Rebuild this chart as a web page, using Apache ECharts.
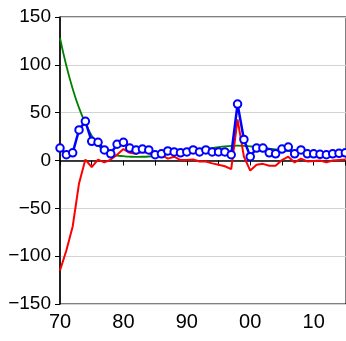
<!DOCTYPE html>
<html><head><meta charset="utf-8">
<script src="https://cdn.jsdelivr.net/npm/echarts@6/dist/echarts.min.js"></script>
<style>html,body{margin:0;padding:0;background:#fff}#c{width:346px;height:341px}</style>
</head><body><div id="c"></div>
<script>
var years = [1970,1971,1972,1973,1974,1975,1976,1977,1978,1979,1980,1981,1982,1983,1984,1985,1986,1987,1988,1989,1990,1991,1992,1993,1994,1995,1996,1997,1998,1999,2000,2001,2002,2003,2004,2005,2006,2007,2008,2009,2010,2011,2012,2013,2014,2015];
var blueVals = [13,6,8,32,41,20,19,11,7,17,19,13,11,12,11,6,7,10,9,8,9,11,9,11,9,9,9,6,59,22,4,13,13,8,7,12,14,7,11,7,7,6.5,6,7,7.5,8];
var redVals = [-115,-94,-69,-24,1,-7,1,-2,1,6,12,8,7,9,8,4,6,2,4,0.5,0.5,1,-1,-1,-3,-4.5,-6,-9,43,4,-10.5,-4.5,-3.5,-5.5,-5.5,0.5,4,-2,2,-1,-0.5,0,-2,0,0.5,1];
var greenVals = [128,99,75,55,39,26,16,10,6.8,5.2,4.5,4.0,3.8,3.9,4.2,4.8,5.6,6.5,7.4,8.3,9.2,10.1,11,12,13,14,14.8,15.3,15.5,15.3,14.8,14.2,13.4,12.5,11.6,10.8,10,9.3,8.6,8,7.4,6.8,6.3,5.8,5.3,4.8];
var yTicks = [-150,-100,-50,0,50,100,150];

function pairs(v){ return years.map(function(y,i){ return [y, v[i]]; }); }

var chart = echarts.init(document.getElementById('c'), null, {renderer:'canvas'});
chart.setOption({
  animation:false,
  backgroundColor:'#fff',
  grid:{left:60, right:0, top:17, bottom:37, outerBoundsMode:'none', show:true, borderColor:'#000', borderWidth:1, backgroundColor:'transparent'},
  xAxis:{type:'value', min:1970, max:2015.1, interval:5,
    axisLine:{lineStyle:{color:'#000', width:1.5}},
    axisTick:{show:true, length:5, inside:false, lineStyle:{color:'#000'}},
    splitLine:{show:false},
    axisLabel:{fontFamily:'Liberation Sans, Arial', fontSize:20, color:'#000', margin:8, showMaxLabel:false,
      formatter:function(v){ if(v%10!==0 || v>2010) return ''; var s=String(v%100); return s.length<2?'0'+s:s; }}
  },
  yAxis:{type:'value', min:yTicks[0], max:yTicks[yTicks.length-1], interval:50,
    axisLine:{show:true, lineStyle:{color:'#000', width:1.5}},
    axisTick:{show:true, length:5, lineStyle:{color:'#000'}},
    splitLine:{show:true, lineStyle:{color:'#d3d3d3', width:1}},
    axisLabel:{fontFamily:'Liberation Sans, Arial', fontSize:19, color:'#000', margin:9,
      formatter:function(v){ return v<0 ? '\u2212' + Math.abs(v) : String(v); }}
  },
  series:[
    {type:'line', data:pairs(greenVals), smooth:true, showSymbol:false, symbol:'none',
      lineStyle:{color:'#008000', width:1.8}, z:2},
    {type:'line', data:pairs(redVals), showSymbol:false, symbol:'none',
      lineStyle:{color:'#ff0000', width:2}, z:3},
    {type:'line', data:pairs(blueVals), symbol:'circle', symbolSize:7.5, showSymbol:true,
      lineStyle:{color:'#0000ff', width:2.5},
      itemStyle:{color:'#ffffff', borderColor:'#0000ff', borderWidth:2}, z:4}
  ]
});
</script></body></html>
